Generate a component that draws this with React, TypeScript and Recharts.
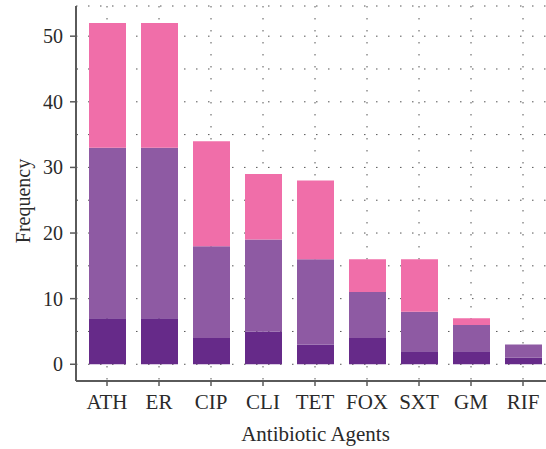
import { BarChart, Bar, XAxis, YAxis, CartesianGrid } from "recharts";

const categories = ["ATH", "ER", "CIP", "CLI", "TET", "FOX", "SXT", "GM", "RIF"];
const lowSeg = [7, 7, 4, 5, 3, 4, 2, 2, 1];
const midSeg = [26, 26, 14, 14, 13, 7, 6, 4, 2];
const highSeg = [19, 19, 16, 10, 12, 5, 8, 1, 0];
const yTicks = [0, 5, 10, 15, 20, 25, 30, 35, 40, 45, 50];

const data = categories.map((name, i) => ({
  name,
  low: lowSeg[i],
  mid: midSeg[i],
  high: highSeg[i],
}));

const FONT = "'Liberation Serif', 'DejaVu Serif', serif";
const TEXT = "#2a2a2a";
const AXIS = "#5a5a5a";

const YTick = (props: any) => {
  const { y, payload } = props;
  const ax = 76;
  const major = payload.value % 10 === 0;
  if (!major) {
    return <line x1={ax} x2={ax + 2} y1={y} y2={y} stroke={AXIS} strokeWidth={1} />;
  }
  return (
    <g>
      <line x1={ax - 6} x2={ax} y1={y} y2={y} stroke={AXIS} strokeWidth={1.5} />
      <text x={ax - 13} y={y} textAnchor="end" dominantBaseline="central" fontFamily={FONT} fontSize={20} fill={TEXT}>
        {payload.value}
      </text>
    </g>
  );
};

export default function App() {
  return (
    <div style={{ position: "absolute", left: 0, top: 0, width: 546, height: 449, overflow: "hidden", background: "#fff" }}>
      <BarChart
        width={549}
        height={449}
        data={data}
        margin={{ top: 6, right: 0, bottom: 0, left: 0 }}
        barSize={37}
      >
        <CartesianGrid stroke="#555" strokeDasharray="1.5 10.5" />
        <XAxis
          dataKey="name"
          height={68}
          padding={{ left: 5, right: 0 }}
          tickSize={5}
          tickMargin={8}
          axisLine={{ stroke: AXIS, strokeWidth: 2 }}
          tickLine={{ stroke: AXIS, strokeWidth: 1.5 }}
          tick={{ fontFamily: FONT, fontSize: 21, fill: TEXT }}
          label={{
            value: "Antibiotic Agents",
            position: "insideBottom",
            offset: 8,
            dx: 3,
            style: { fontFamily: FONT, fontSize: 21, fill: TEXT },
          }}
        />
        <XAxis
          xAxisId="top"
          orientation="top"
          dataKey="name"
          height={0}
          tick={false}
          tickLine={false}
          axisLine={{ stroke: AXIS, strokeWidth: 2 }}
        />
        <YAxis
          width={76}
          domain={[-2.55, 54.6]}
          allowDataOverflow
          ticks={yTicks}
          interval={0}
          tickLine={false}
          tickSize={0}
          tickMargin={0}
          axisLine={{ stroke: AXIS, strokeWidth: 2 }}
          tick={<YTick />}
          label={{
            content: () => (
              <text
                x={23}
                y={201}
                transform="rotate(-90 23 201)"
                textAnchor="middle"
                dominantBaseline="central"
                fontFamily={FONT}
                fontSize={20}
                fill={TEXT}
              >
                Frequency
              </text>
            ),
          }}
        />
        <Bar dataKey="low" name="Low" stackId="a" fill="#662a89" isAnimationActive={false} />
        <Bar dataKey="mid" name="Mid" stackId="a" fill="#8e5aa3" isAnimationActive={false} />
        <Bar dataKey="high" name="High" stackId="a" fill="#f06ea9" isAnimationActive={false} />
      </BarChart>
    </div>
  );
}
